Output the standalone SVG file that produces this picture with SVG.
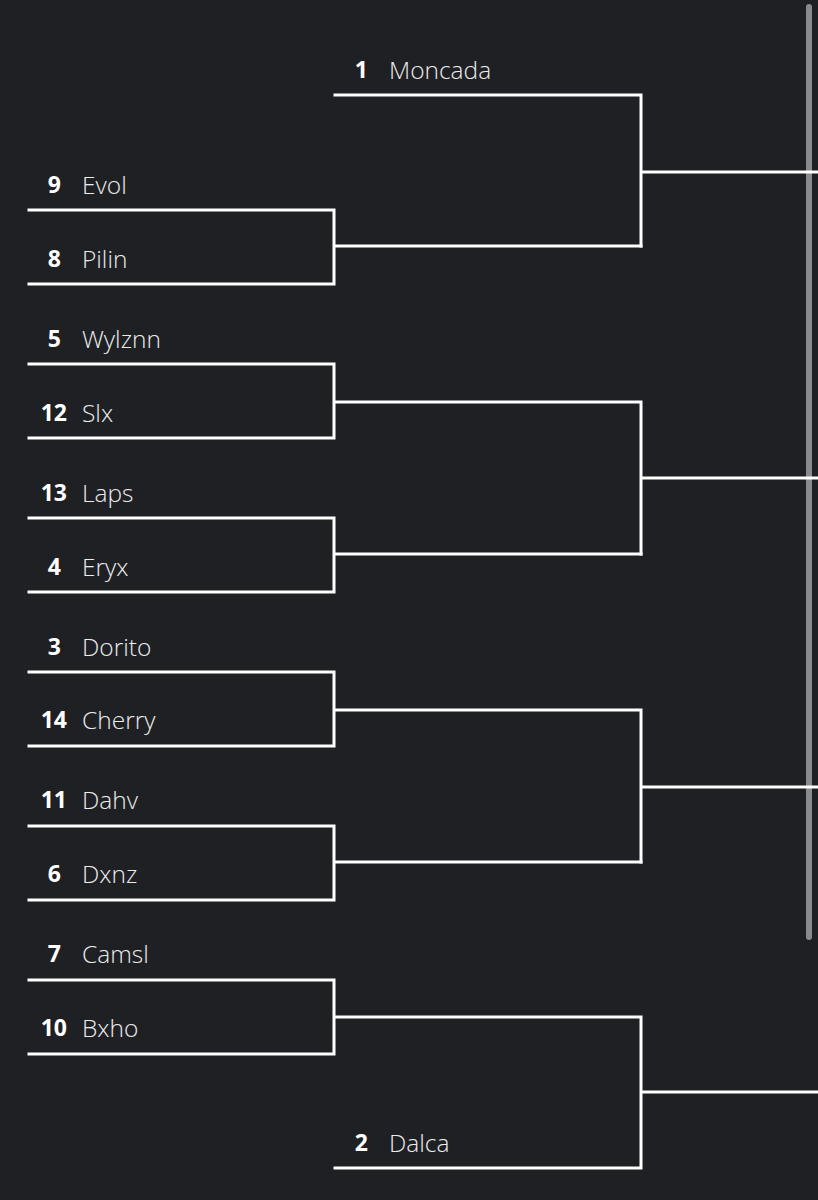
<svg xmlns="http://www.w3.org/2000/svg" width="818" height="1200" viewBox="0 0 818 1200">
<style>
.bg{fill:#1f2024}
.ln{stroke:#ffffff;stroke-width:3;fill:none;stroke-linecap:square}
.sd{font-family:"Open Sans","Noto Sans",sans-serif;font-weight:700;font-size:23px;fill:#ffffff;text-anchor:end}
.nm{font-family:"Open Sans","Noto Sans",sans-serif;font-weight:300;font-size:24.5px;fill:#ececec}
</style>
<rect class="bg" x="0" y="0" width="818" height="1200"/>
<rect x="806" y="4" width="6" height="936" rx="3" fill="#8a8a8e"/>
<g id="connectors">
<path class="ln" d="M335,95 H641 V246 M641,172 H818"/>
<path class="ln" d="M29,210 H334 V284 H29 M334,246 H641"/>
<path class="ln" d="M29,364 H334 V438 H29 M334,402 H641 V554 M641,478 H818"/>
<path class="ln" d="M29,518 H334 V592 H29 M334,554 H641"/>
<path class="ln" d="M29,672 H334 V746 H29 M334,710 H641 V862 M641,787 H818"/>
<path class="ln" d="M29,826 H334 V900 H29 M334,862 H641"/>
<path class="ln" d="M29,980 H334 V1054 H29 M334,1017 H641 V1168 H335 M641,1092 H818"/>
</g>
<g id="n-moncada"><text class="sd" x="368" y="78">1</text><text class="nm" x="389" y="79">Moncada</text></g>
<g id="n-evol"><text class="sd" x="61" y="193">9</text><text class="nm" x="82" y="194">Evol</text></g>
<g id="n-pilin"><text class="sd" x="61" y="267">8</text><text class="nm" x="82" y="268">Pilin</text></g>
<g id="n-wylznn"><text class="sd" x="61" y="347">5</text><text class="nm" x="82" y="348">Wylznn</text></g>
<g id="n-slx"><text class="sd" x="67" y="421">12</text><text class="nm" x="82" y="422">Slx</text></g>
<g id="n-laps"><text class="sd" x="67" y="501">13</text><text class="nm" x="82" y="502">Laps</text></g>
<g id="n-eryx"><text class="sd" x="61" y="575">4</text><text class="nm" x="82" y="576">Eryx</text></g>
<g id="n-dorito"><text class="sd" x="61" y="655">3</text><text class="nm" x="82" y="656">Dorito</text></g>
<g id="n-cherry"><text class="sd" x="67" y="728">14</text><text class="nm" x="82" y="729">Cherry</text></g>
<g id="n-dahv"><text class="sd" x="67" y="808">11</text><text class="nm" x="82" y="809">Dahv</text></g>
<g id="n-dxnz"><text class="sd" x="61" y="882">6</text><text class="nm" x="82" y="883">Dxnz</text></g>
<g id="n-camsl"><text class="sd" x="61" y="962">7</text><text class="nm" x="82" y="963">Camsl</text></g>
<g id="n-bxho"><text class="sd" x="67" y="1036">10</text><text class="nm" x="82" y="1037">Bxho</text></g>
<g id="n-dalca"><text class="sd" x="368" y="1151">2</text><text class="nm" x="389" y="1152">Dalca</text></g>
</svg>
